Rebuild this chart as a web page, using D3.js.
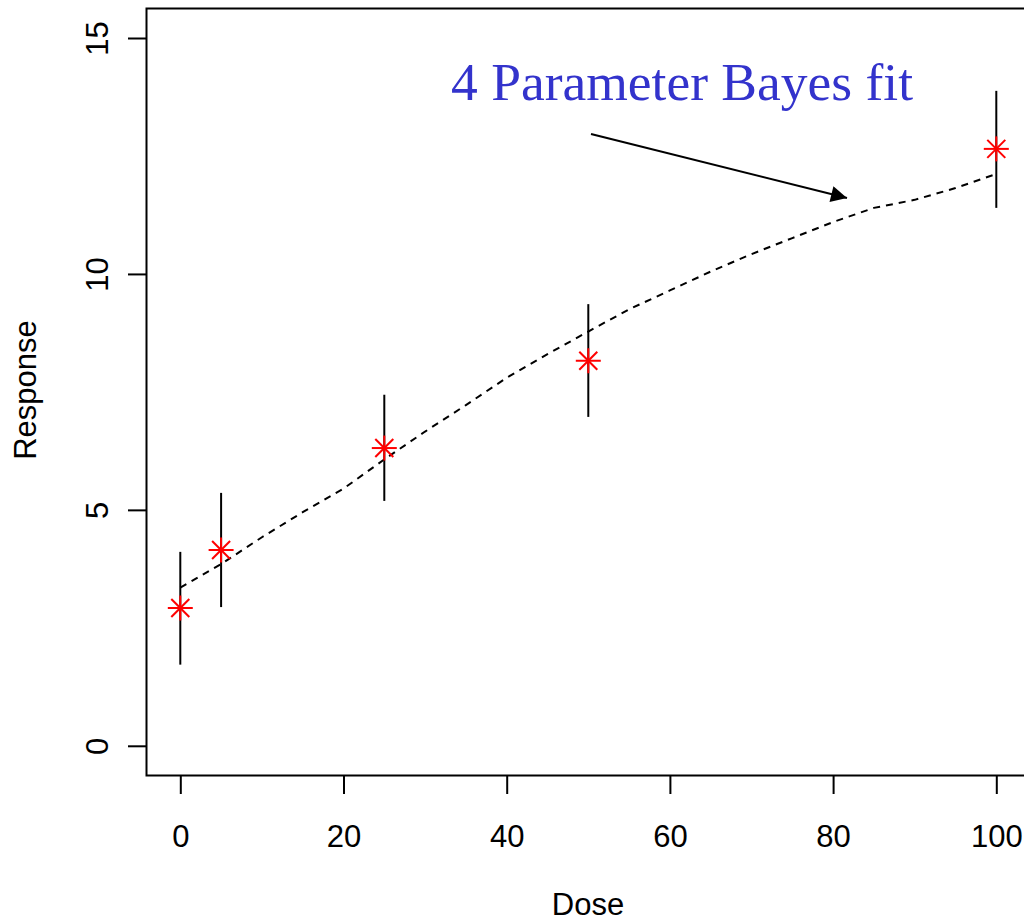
<!DOCTYPE html>
<html>
<head>
<meta charset="utf-8">
<script src="https://cdn.jsdelivr.net/npm/d3@7"></script>
<style>
  html, body { margin: 0; padding: 0; background: #fff; }
  svg { display: block; }
</style>
</head>
<body>
<script>
// Observed data
const doses = [0, 5, 25, 50, 100];
const means = [2.92, 4.15, 6.31, 8.16, 12.65];
const upper = [4.11, 5.36, 7.44, 9.36, 13.88];
const lower = [1.72, 2.94, 5.19, 6.97, 11.40];

// Fitted curve (4 parameter Bayes fit)
const fitDose = [0, 5, 10, 15, 20, 25, 30, 35, 40, 45, 50, 55, 60, 65, 70, 75, 80, 85, 90, 95, 100];
const fitResp = [3.35, 3.85, 4.42, 4.95, 5.45, 6.07, 6.66, 7.22, 7.80, 8.30, 8.78, 9.25, 9.65, 10.05, 10.42, 10.76, 11.10, 11.40, 11.57, 11.82, 12.12];

const xTicks = [0, 20, 40, 60, 80, 100];
const yTicks = [0, 5, 10, 15];

const W = 1024, H = 921;
const svg = d3.select("body").append("svg").attr("width", W).attr("height", H);

const x = d3.scaleLinear().domain([0, 100]).range([180.3, 996.3]);
const y = d3.scaleLinear().domain([0, 15]).range([745.8, 38.0]);

const font = "Liberation Sans, Arial, Helvetica, sans-serif";

// Plot frame
svg.append("rect")
  .attr("x", 146.5).attr("y", 8.5)
  .attr("width", 1000).attr("height", 767)
  .attr("fill", "none").attr("stroke", "#000").attr("stroke-width", 2);

// X axis
const xAxis = d3.axisBottom(x).tickValues(xTicks).tickSize(18).tickPadding(30).tickFormat(d3.format("d"));
const gx = svg.append("g").attr("transform", "translate(0,776)").call(xAxis);
gx.select(".domain").remove();
gx.selectAll(".tick line").attr("stroke", "#000").attr("stroke-width", 2);
gx.selectAll(".tick text").attr("font-family", font).attr("font-size", 31).attr("fill", "#000")
  .attr("dy", null).attr("y", 71);

// Y axis
const yAxis = d3.axisLeft(y).tickValues(yTicks).tickSize(19).tickFormat(d3.format("d"));
const gy = svg.append("g").attr("transform", "translate(147,0)").call(yAxis);
gy.select(".domain").remove();
gy.selectAll(".tick line").attr("stroke", "#000").attr("stroke-width", 2);
gy.selectAll(".tick text").attr("font-family", font).attr("font-size", 31).attr("fill", "#000")
  .attr("x", null).attr("dy", null)
  .attr("text-anchor", "middle")
  .attr("transform", "translate(-39,0) rotate(-90)");

// Axis titles
svg.append("text").attr("x", 588).attr("y", 915)
  .attr("text-anchor", "middle").attr("font-family", font).attr("font-size", 31)
  .text("Dose");
svg.append("text")
  .attr("transform", "translate(36,390) rotate(-90)")
  .attr("text-anchor", "middle").attr("font-family", font).attr("font-size", 31)
  .text("Response");

// Fitted dashed curve
const line = d3.line().x((d, i) => x(fitDose[i])).y(d => y(d));
svg.append("path").datum(fitResp)
  .attr("d", line)
  .attr("fill", "none").attr("stroke", "#000").attr("stroke-width", 2)
  .attr("stroke-dasharray", "7,6");

// Error bars
svg.append("g").selectAll("line").data(doses).join("line")
  .attr("x1", d => x(d)).attr("x2", d => x(d))
  .attr("y1", (d, i) => y(upper[i])).attr("y2", (d, i) => y(lower[i]))
  .attr("stroke", "#000").attr("stroke-width", 2);

// Asterisk markers (pch 8)
const r = 12.5, rd = r * 0.72;
const stars = svg.append("g").selectAll("g").data(doses).join("g")
  .attr("transform", (d, i) => `translate(${x(d)},${y(means[i])})`);
const segs = [[-r, 0, r, 0], [0, -r, 0, r], [-rd, -rd, rd, rd], [-rd, rd, rd, -rd]];
segs.forEach(s => {
  stars.append("line")
    .attr("x1", s[0]).attr("y1", s[1]).attr("x2", s[2]).attr("y2", s[3])
    .attr("stroke", "#ff0000").attr("stroke-width", 2);
});

// Annotation
svg.append("text").attr("x", 451).attr("y", 100)
  .attr("font-family", "Liberation Serif, Times New Roman, serif")
  .attr("font-size", 53.5).attr("fill", "#3333cc")
  .text("4 Parameter Bayes fit");

svg.append("defs").append("marker")
  .attr("id", "arrowhead").attr("viewBox", "0 -5 10 10")
  .attr("refX", 10).attr("refY", 0)
  .attr("markerWidth", 8.5).attr("markerHeight", 8).attr("markerUnits", "strokeWidth")
  .attr("orient", "auto")
  .append("path").attr("d", "M0,-5L10,0L0,5Z").attr("fill", "#000");

svg.append("line")
  .attr("x1", 591).attr("y1", 134).attr("x2", 847).attr("y2", 198)
  .attr("stroke", "#000").attr("stroke-width", 2)
  .attr("marker-end", "url(#arrowhead)");
</script>
</body>
</html>
